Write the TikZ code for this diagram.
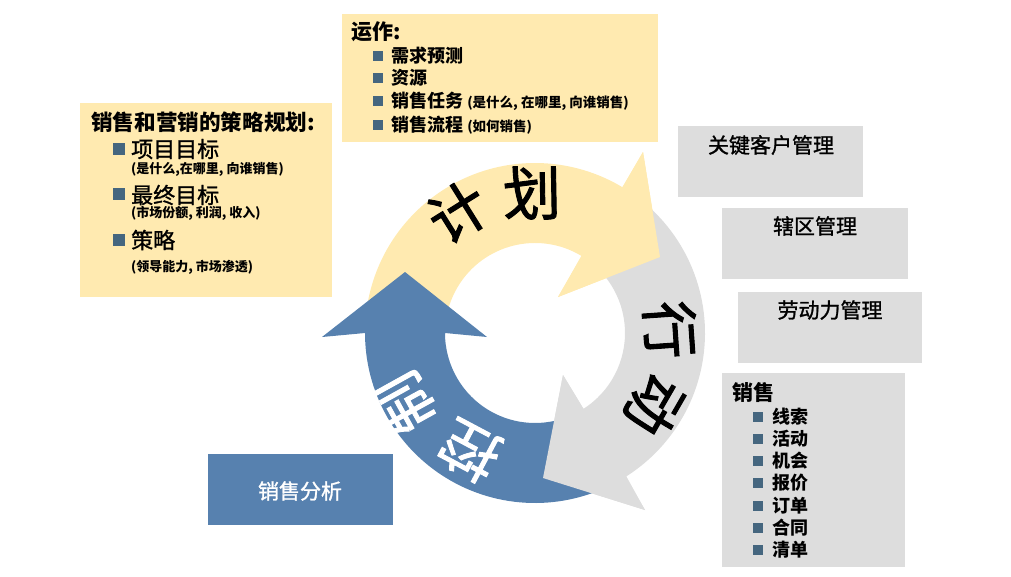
\documentclass[tikz,border=0pt]{standalone}
\usepackage{fontspec}
\setmainfont{Noto Sans CJK SC}
\newfontfamily\medfont[FakeBold=1.2]{Noto Sans CJK SC}
\newfontfamily\arcfont[FakeBold=1.6]{Noto Sans CJK SC}
\usetikzlibrary{calc}
\definecolor{yel}{HTML}{FFEAB0}
\definecolor{gry}{HTML}{DDDDDD}
\definecolor{blu}{HTML}{5781AF}
\definecolor{bulc}{HTML}{45667F}
\newcommand{\fs}[1]{\fontsize{#1}{#1}\selectfont}
\tikzset{
  ybox/.style={fill=yel, draw=none, inner sep=0pt, anchor=north west},
  gbox/.style={fill=gry, draw=none, inner sep=0pt, anchor=north west},
  bbox/.style={fill=blu, draw=none, inner sep=0pt, anchor=north west},
  bul/.style={fill=bulc, draw=none, inner sep=0pt, minimum size=#1},
  bul/.default=10pt,
  txt/.style={inner sep=0pt, anchor=west, text=black},
  arct/.style={inner sep=0pt, font=\arcfont\fs{58}}
}
\begin{document}
\begin{tikzpicture}[x=1pt,y=-1pt]
\useasboundingbox (0,0) rectangle (1011,576);
\coordinate (C) at (535,333);

% yellow arrow (plan)
\fill[yel] ($(C)+(185:170)$) arc[start angle=185, end angle=301, radius=170]
  -- (643,152) -- (660,257) -- (558,297) -- ($(C)+(301:90)$)
  arc[start angle=301, end angle=185, radius=90] -- cycle;
% gray arrow (action)
\fill[gry] ($(C)+(310:170)$) arc[start angle=310, end angle=417.5, radius=170]
  -- (645,510) -- (543,478) -- (563,375) -- ($(C)+(417.5:90)$)
  arc[start angle=417.5, end angle=310, radius=90] -- cycle;
\fill[yel] (643,152) -- (660,257) -- (558,297) -- cycle;
% blue arrow (control)
\fill[blu] ($(C)+(67:170)$) arc[start angle=67, end angle=180, radius=170]
  -- (322,337) -- (405,272) -- (487,337) -- ($(C)+(180:90)$)
  arc[start angle=180, end angle=67, radius=90] -- cycle;
\fill[gry] (645,510) -- (543,478) -- (563,375) -- cycle;

% arc texts
\node[arct, rotate=32] (ji) at (458,212) {计};
\node[arct, rotate=1] (hua) at (532,193) {划};
\node[arct, rotate=-86] (xing) at (670,330) {行};
\node[arct, rotate=-120] (dong) at (655,405) {动};
\node[arct, text=white, rotate=152] (kong) at (470,451) {控};
\node[arct, text=white, rotate=119] (zhi) at (405,403) {制};

% top box: operations
\node[ybox, minimum width=316pt, minimum height=128pt] (opsbox) at (342,14) {};
\node[txt, font=\fs{21}\bfseries] (opst) at (351,32) {运作:};
\node[bul] (ob1) at (378,56) {};
\node[bul] (ob2) at (378,78) {};
\node[bul] (ob3) at (378,101) {};
\node[bul] (ob4) at (378,125) {};
\node[txt, font=\fs{18}\bfseries] (o1) at (391,56) {需求预测};
\node[txt, font=\fs{18}\bfseries] (o2) at (391,78) {资源};
\node[txt, font=\fs{18}\bfseries] (o3) at (391,101) {销售任务 {\fs{13.5}(是什么, 在哪里, 向谁销售)}};
\node[txt, font=\fs{18}\bfseries] (o4) at (391,125) {销售流程 {\fs{13.5}(如何销售)}};

% left box: strategy
\node[ybox, minimum width=252pt, minimum height=194pt] (stratbox) at (80,103) {};
\node[txt, font=\fs{21.6}\bfseries] (st) at (91,122.5) {销售和营销的策略规划:};
\node[bul=12pt] (sb1) at (119,149) {};
\node[bul=12pt] (sb2) at (119,194) {};
\node[bul=12pt] (sb3) at (119,240) {};
\node[txt, font=\medfont\fs{22}] (s1) at (131,149) {项目目标};
\node[txt, font=\fs{13}\bfseries] (s1a) at (131,169) {(是什么,在哪里, 向谁销售)};
\node[txt, font=\medfont\fs{22}] (s2) at (131,195) {最终目标};
\node[txt, font=\fs{13}\bfseries] (s2a) at (131,213) {(市场份额, 利润, 收入)};
\node[txt, font=\medfont\fs{22}] (s3) at (131,240) {策略};
\node[txt, font=\fs{13}\bfseries] (s3a) at (131,267) {(领导能力, 市场渗透)};

% right gray boxes
\node[gbox, minimum width=185pt, minimum height=71pt] (kambox) at (678,126) {};
\node[inner sep=0pt, font=\medfont\fs{21}] (kam) at (771,145) {关键客户管理};
\node[gbox, minimum width=186pt, minimum height=71pt] (terrbox) at (722,208) {};
\node[inner sep=0pt, font=\medfont\fs{21}] (terr) at (815,226) {辖区管理};
\node[gbox, minimum width=184pt, minimum height=71pt] (labbox) at (738,292) {};
\node[inner sep=0pt, font=\medfont\fs{21}] (lab) at (830,310) {劳动力管理};

\node[gbox, minimum width=183pt, minimum height=194pt] (salesbox) at (722,373) {};
\node[txt, font=\fs{21}\bfseries] (salest) at (732,392) {销售};
\foreach \i/\y/\t in {1/416.5/线索, 2/438.5/活动, 3/461/机会, 4/483/报价, 5/505.5/订单, 6/527.5/合同, 7/550/清单} {
  \node[bul] (sl\i b) at (758,\y) {};
  \node[txt, font=\fs{18}\bfseries] (sl\i) at (772,\y) {\t};
}

% blue box
\node[bbox, minimum width=185pt, minimum height=71pt] (anabox) at (208,454) {};
\node[inner sep=0pt, font=\medfont\fs{21}, text=white] (ana) at (300,491) {销售分析};
\end{tikzpicture}
\end{document}
